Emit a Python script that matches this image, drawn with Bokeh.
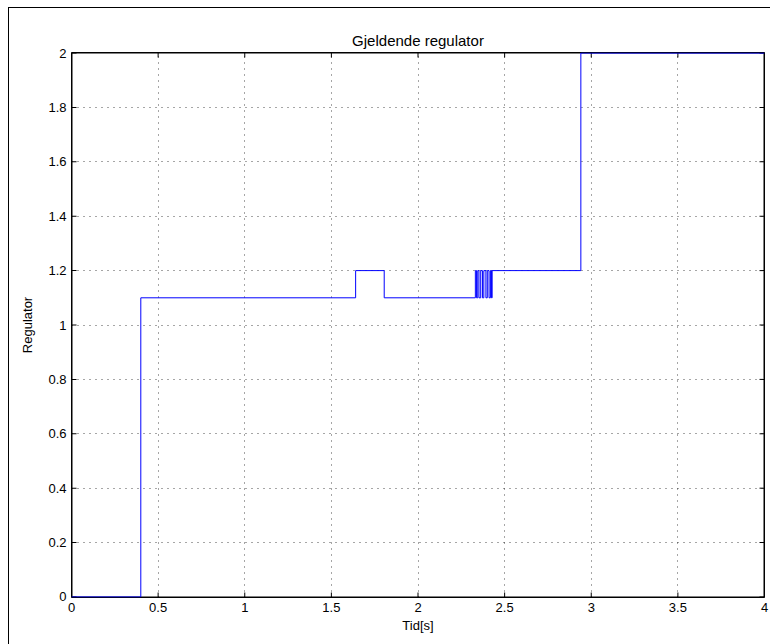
from bokeh.plotting import figure
from bokeh.models import FixedTicker, Range1d
from bokeh.embed import file_html
from bokeh.resources import INLINE

# Data: switching times and regulator values (step, held after each time)
t = [0.0, 0.40, 1.64, 1.805, 2.331, 2.338, 2.345, 2.352, 2.362, 2.372, 2.380,
     2.392, 2.400, 2.410, 2.418, 2.424, 2.428, 2.94, 4.0]
reg = [0.0, 1.1, 1.2, 1.1, 1.2, 1.1, 1.2, 1.1, 1.2, 1.1, 1.2,
       1.1, 1.2, 1.1, 1.2, 1.1, 1.2, 2.0, 2.0]

x_ticks = [0, 0.5, 1, 1.5, 2, 2.5, 3, 3.5, 4]
x_labels = ["0", "0.5", "1", "1.5", "2", "2.5", "3", "3.5", "4"]
y_ticks = [0, 0.2, 0.4, 0.6, 0.8, 1.0, 1.2, 1.4, 1.6, 1.8, 2.0]
y_labels = ["0", "0.2", "0.4", "0.6", "0.8", "1", "1.2", "1.4", "1.6", "1.8", "2"]

FONT = "Liberation Sans"
FRAME_W, FRAME_H = 693, 545
XS, XE = x_ticks[0], x_ticks[-1]
YS, YE = y_ticks[0] - 0.002, y_ticks[-1] + 0.002
PX = (XE - XS) / FRAME_W      # one pixel in x data units
PY = (YE - YS) / FRAME_H      # one pixel in y data units
TICK = 5                      # tick length in px

p = figure(width=762, height=637, output_backend="svg", toolbar_location=None,
           x_range=Range1d(XS, XE), y_range=Range1d(YS, YE),
           min_border_left=62, min_border_right=7, min_border_top=44, min_border_bottom=48,
           title="Gjeldende regulator",
           margin=(7, 0, 0, 8),
           styles={"border-left": "1px solid black", "border-top": "1px solid black"})
p.title.align = "center"
p.title.text_font = FONT
p.title.text_font_size = "15px"
p.title.text_font_style = "normal"
p.title.text_color = "black"
p.title.standoff = 8
p.outline_line_color = "black"

# grid
p.xgrid.ticker = FixedTicker(ticks=x_ticks[1:-1])
p.ygrid.ticker = FixedTicker(ticks=y_ticks[1:-1])
for g in (p.xgrid, p.ygrid):
    g.grid_line_color = "black"
    g.grid_line_alpha = 0.7
    g.grid_line_dash = "1 5"
    g.grid_line_width = 1

# box frame and inward ticks drawn as thin filled rectangles
L, R, B, T = [], [], [], []
# frame edges
L += [XS, XS, XS, XE - PX]
R += [XE, XE, XS + PX, XE]
B += [YS, YE - PY, YS, YS]
T += [YS + PY, YE, YE, YE]
# x ticks (bottom and top)
for xt in x_ticks:
    L += [xt - PX / 2, xt - PX / 2]
    R += [xt + PX / 2, xt + PX / 2]
    B += [YS, YE - TICK * PY]
    T += [YS + TICK * PY, YE]
# y ticks (left and right)
for yt in y_ticks:
    L += [XS, XE - TICK * PX]
    R += [XS + TICK * PX, XE]
    B += [yt - PY / 2, yt - PY / 2]
    T += [yt + PY / 2, yt + PY / 2]
p.quad(left=L, right=R, bottom=B, top=T, fill_color="black", fill_alpha=1.0,
       line_color=None)

# signal
p.step(t, reg, mode="after", line_color="#0000ff", line_width=1)

for ax, ticks, labels in ((p.xaxis[0], x_ticks, x_labels), (p.yaxis[0], y_ticks, y_labels)):
    ax.ticker = FixedTicker(ticks=ticks)
    ax.major_label_overrides = {tk: lb for tk, lb in zip(ticks, labels)}
    ax.major_tick_in = 0
    ax.major_tick_out = 0
    ax.minor_tick_in = 0
    ax.minor_tick_out = 0
    ax.axis_line_color = None
    ax.major_label_text_font = FONT
    ax.major_label_text_font_size = "13px"
    ax.major_label_text_color = "black"
    ax.major_label_standoff = 5
    ax.axis_label_text_font = FONT
    ax.axis_label_text_font_size = "13px"
    ax.axis_label_text_font_style = "normal"
    ax.axis_label_text_color = "black"

p.xaxis[0].axis_label = "Tid[s]"
p.yaxis[0].axis_label = "Regulator"
p.xaxis[0].axis_label_standoff = 3
p.yaxis[0].axis_label_standoff = 10

open("out.html", "w").write(file_html(p, INLINE))
